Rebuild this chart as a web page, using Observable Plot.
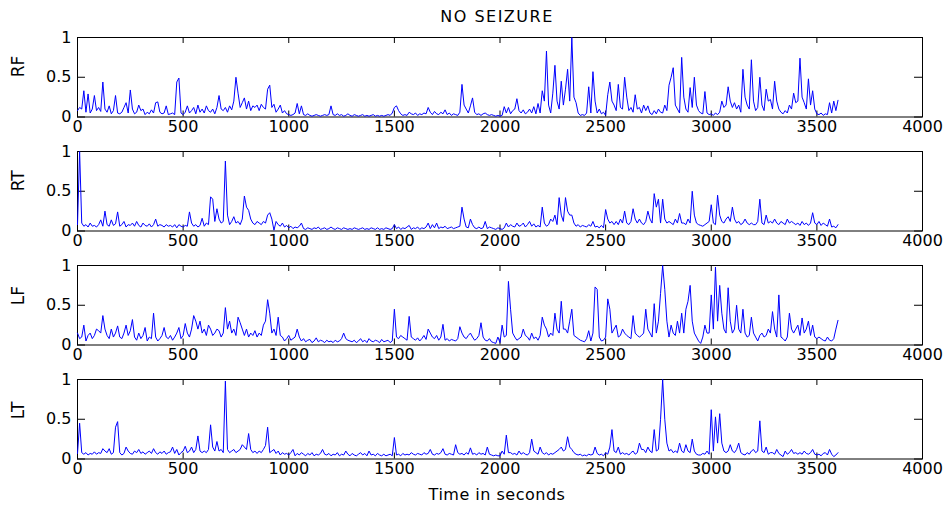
<!DOCTYPE html>
<html>
<head>
<meta charset="utf-8">
<script src="https://cdn.jsdelivr.net/npm/d3@7"></script>
<script src="https://cdn.jsdelivr.net/npm/@observablehq/plot@0.6"></script>
<style>
  body { margin: 0; background: #fff; }
  #chart { position: relative; width: 944px; height: 509px; overflow: hidden; font-family: "DejaVu Sans", sans-serif; color: #000; }
  .panel { position: absolute; left: 0; }
  #title { position: absolute; left: 347px; width: 300px; top: 8px; line-height: 18px; font-size: 16px; letter-spacing: 1.5px; text-align: center; }
  #xlabel { position: absolute; left: 347px; width: 300px; top: 486px; line-height: 18px; font-size: 16px; letter-spacing: 0.5px; text-align: center; }
</style>
</head>
<body>
<div id="chart">
  <div id="title">NO SEIZURE</div>
  <div id="xlabel">Time in seconds</div>
</div>
<script>
// ---- data (one sample every 10 s, 0..3600 s) ----
const step = 10;
const xTicks = [0, 500, 1000, 1500, 2000, 2500, 3000, 3500, 4000];
const yTicks = [0, 0.5, 1];
const channelNames = ["RF", "RT", "LF", "LT"];

const rf = [
 .08,.12,.10,.33,.06,.29,.05,.10,.27,.08,
 .12,.07,.44,.10,.06,.14,.04,.08,.27,.05,
 .04,.06,.12,.18,.05,.34,.10,.04,.06,.15,
 .08,.10,.03,.06,.04,.09,.05,.18,.19,.06,
 .04,.05,.14,.03,.04,.05,.03,.44,.49,.05,
 .03,.06,.14,.05,.08,.12,.04,.15,.06,.10,
 .05,.14,.08,.06,.10,.04,.12,.27,.10,.08,
 .12,.06,.14,.09,.20,.50,.30,.12,.18,.24,
 .10,.20,.08,.14,.12,.15,.08,.16,.12,.10,
 .35,.40,.12,.16,.06,.10,.15,.05,.08,.04,
 .03,.02,.03,.05,.17,.04,.14,.03,.02,.04,
 .02,.01,.02,.03,.02,.01,.02,.03,.02,.03,
 .14,.03,.02,.04,.02,.03,.01,.02,.04,.02,
 .01,.03,.02,.01,.02,.03,.01,.02,.01,.02,
 .03,.01,.02,.01,.02,.01,.02,.03,.02,.05,
 .12,.14,.08,.04,.02,.03,.02,.06,.04,.03,
 .05,.02,.04,.03,.05,.04,.12,.06,.03,.07,
 .04,.03,.06,.04,.09,.03,.05,.02,.04,.03,
 .02,.06,.41,.15,.10,.05,.14,.24,.06,.03,
 .04,.02,.04,.05,.03,.02,.03,.02,.01,.02,
 .01,.02,.13,.05,.12,.04,.08,.10,.23,.08,
 .05,.09,.04,.06,.10,.05,.13,.04,.17,.05,
 .33,.20,.83,.15,.05,.30,.65,.20,.10,.45,
 .15,.35,.60,.20,1.0,.25,.18,.05,.02,.03,
 .02,.05,.38,.05,.57,.20,.05,.10,.04,.06,
 .02,.28,.44,.20,.15,.08,.41,.12,.10,.50,
 .25,.08,.12,.06,.28,.10,.12,.05,.15,.08,
 .14,.05,.03,.08,.04,.10,.06,.05,.15,.08,
 .40,.50,.62,.15,.10,.05,.75,.25,.10,.06,
 .37,.12,.50,.15,.08,.05,.04,.32,.05,.03,
 .04,.02,.05,.03,.06,.20,.12,.15,.38,.20,
 .12,.18,.10,.15,.06,.60,.25,.15,.10,.72,
 .20,.08,.12,.50,.15,.08,.35,.20,.22,.10,
 .45,.20,.10,.06,.04,.08,.05,.15,.10,.30,
 .18,.20,.74,.25,.18,.10,.48,.15,.33,.10,
 .04,.03,.05,.02,.04,.03,.18,.05,.20,.08,
 .21];

const rt = [
 .08,1.0,.10,.06,.08,.05,.10,.06,.07,.05,
 .08,.14,.06,.25,.08,.06,.14,.07,.09,.24,
 .06,.08,.12,.05,.08,.07,.10,.06,.12,.07,
 .05,.10,.07,.06,.09,.05,.08,.15,.06,.08,
 .07,.05,.08,.06,.07,.05,.08,.04,.08,.06,
 .05,.07,.06,.24,.10,.06,.08,.05,.07,.16,
 .06,.10,.08,.43,.40,.12,.28,.15,.10,.12,
 .88,.20,.08,.12,.18,.10,.12,.08,.15,.44,
 .30,.26,.15,.10,.08,.12,.10,.08,.12,.10,
 .20,.23,.15,.01,.12,.08,.06,.10,.05,.07,
 .04,.06,.03,.05,.04,.06,.10,.03,.02,.04,
 .03,.02,.04,.03,.05,.02,.03,.04,.02,.03,
 .05,.03,.02,.04,.03,.02,.04,.03,.02,.03,
 .02,.04,.03,.02,.03,.04,.02,.03,.02,.04,
 .03,.02,.04,.02,.03,.02,.04,.03,.02,.03,
 .08,.03,.05,.02,.04,.03,.05,.07,.02,.04,
 .03,.05,.02,.04,.03,.05,.10,.03,.08,.04,
 .10,.03,.05,.04,.06,.03,.04,.05,.03,.04,
 .05,.06,.30,.15,.05,.04,.15,.08,.04,.03,
 .05,.03,.04,.12,.03,.05,.04,.03,.02,.04,
 .03,.02,.04,.10,.05,.08,.06,.05,.10,.06,
 .07,.10,.05,.08,.12,.06,.09,.05,.07,.05,
 .30,.10,.06,.08,.15,.12,.20,.08,.42,.20,
 .12,.42,.25,.20,.20,.10,.06,.08,.05,.07,
 .06,.05,.08,.06,.12,.05,.06,.04,.07,.04,
 .27,.15,.10,.12,.08,.12,.08,.15,.10,.25,
 .10,.08,.12,.28,.15,.10,.15,.10,.08,.12,
 .25,.15,.10,.47,.30,.40,.10,.40,.15,.10,
 .12,.10,.08,.15,.10,.22,.10,.10,.08,.15,
 .10,.50,.20,.10,.08,.07,.06,.08,.10,.12,
 .33,.10,.08,.45,.20,.12,.10,.15,.18,.12,
 .30,.15,.10,.12,.08,.10,.15,.10,.08,.10,
 .08,.08,.12,.40,.10,.08,.20,.10,.12,.10,
 .15,.10,.08,.12,.10,.08,.15,.10,.12,.10,
 .08,.10,.07,.12,.08,.10,.07,.10,.23,.10,
 .08,.12,.07,.10,.08,.06,.15,.05,.06,.04,
 .08];

const lf = [
 .15,.08,.10,.25,.05,.12,.15,.08,.12,.20,
 .18,.15,.37,.20,.12,.08,.20,.10,.15,.24,
 .10,.08,.15,.25,.12,.18,.32,.10,.06,.15,
 .08,.12,.22,.05,.10,.08,.40,.10,.05,.08,
 .12,.22,.10,.08,.12,.06,.10,.15,.22,.08,
 .12,.27,.15,.10,.20,.37,.30,.20,.30,.15,
 .20,.12,.25,.20,.12,.15,.20,.18,.10,.15,
 .47,.20,.30,.15,.20,.12,.35,.28,.20,.12,
 .20,.10,.15,.12,.18,.10,.15,.12,.25,.30,
 .57,.40,.15,.20,.12,.35,.12,.10,.05,.08,
 .12,.06,.08,.10,.20,.10,.05,.08,.04,.06,
 .07,.03,.05,.09,.04,.06,.05,.03,.06,.04,
 .05,.03,.06,.04,.05,.08,.15,.08,.06,.05,
 .04,.06,.03,.05,.08,.04,.06,.03,.08,.05,
 .04,.06,.05,.03,.07,.04,.05,.06,.03,.05,
 .45,.10,.08,.12,.10,.08,.06,.36,.10,.08,
 .06,.09,.05,.08,.12,.07,.20,.15,.10,.08,
 .12,.06,.10,.26,.06,.08,.05,.07,.06,.05,
 .08,.23,.15,.10,.08,.12,.15,.10,.06,.08,
 .12,.28,.10,.06,.05,.08,.04,.03,.02,.10,
 .03,.25,.10,.12,.80,.45,.15,.10,.06,.08,
 .10,.20,.12,.10,.06,.15,.08,.10,.06,.12,
 .35,.25,.20,.10,.15,.12,.40,.20,.15,.55,
 .20,.20,.15,.30,.45,.12,.10,.08,.06,.05,
 .04,.08,.18,.05,.15,.73,.70,.10,.05,.06,
 .10,.58,.45,.15,.20,.25,.10,.12,.20,.15,
 .12,.10,.08,.37,.15,.12,.10,.12,.15,.45,
 .20,.15,.10,.52,.15,.30,.65,1.0,.70,.30,
 .10,.25,.15,.12,.30,.15,.40,.15,.45,.55,
 .75,.30,.15,.10,.05,.02,.10,.25,.15,.15,
 .63,.20,.98,.30,.75,.40,.20,.15,.72,.30,
 .15,.20,.50,.20,.15,.45,.15,.10,.12,.35,
 .15,.10,.05,.12,.15,.10,.12,.20,.15,.42,
 .20,.10,.63,.10,.08,.05,.10,.40,.20,.15,
 .20,.25,.12,.34,.15,.20,.30,.12,.25,.10,
 .08,.10,.08,.06,.05,.10,.06,.05,.08,.20,
 .31];

const lt = [
 .07,.45,.08,.06,.08,.05,.07,.06,.09,.06,
 .08,.07,.13,.10,.08,.13,.06,.08,.40,.47,
 .08,.05,.07,.15,.10,.07,.06,.10,.08,.12,
 .07,.09,.06,.08,.10,.07,.13,.08,.06,.09,
 .07,.10,.06,.08,.09,.15,.07,.12,.05,.08,
 .10,.16,.08,.10,.15,.08,.12,.29,.10,.08,
 .10,.08,.12,.43,.15,.10,.22,.10,.12,.08,
 .98,.12,.08,.10,.12,.08,.10,.12,.18,.15,
 .12,.32,.12,.08,.10,.07,.10,.08,.12,.17,
 .40,.08,.10,.12,.07,.10,.05,.08,.06,.07,
 .05,.08,.12,.04,.07,.05,.08,.06,.04,.07,
 .05,.08,.04,.06,.05,.07,.12,.06,.05,.07,
 .04,.06,.05,.08,.04,.06,.05,.10,.06,.04,
 .07,.05,.04,.06,.08,.05,.07,.04,.10,.05,
 .06,.04,.07,.05,.04,.06,.04,.05,.06,.04,
 .27,.05,.06,.04,.07,.05,.06,.05,.08,.06,
 .05,.07,.06,.05,.08,.06,.07,.12,.06,.05,
 .07,.06,.08,.13,.06,.05,.07,.06,.05,.18,
 .08,.06,.07,.05,.08,.06,.14,.06,.07,.05,
 .08,.06,.07,.05,.15,.06,.05,.04,.05,.04,
 .04,.10,.06,.30,.08,.08,.06,.07,.05,.10,
 .06,.08,.06,.05,.08,.25,.10,.08,.06,.15,
 .08,.06,.08,.05,.07,.06,.08,.10,.12,.15,
 .10,.12,.28,.15,.12,.08,.06,.05,.06,.04,
 .05,.04,.06,.05,.06,.15,.07,.05,.06,.04,
 .08,.06,.15,.37,.10,.08,.15,.06,.08,.06,
 .07,.05,.08,.10,.06,.08,.20,.12,.12,.08,
 .15,.10,.08,.37,.10,.12,.50,1.0,.50,.20,
 .10,.12,.08,.10,.08,.20,.10,.08,.18,.10,
 .08,.25,.10,.06,.05,.05,.07,.06,.10,.06,
 .62,.10,.53,.20,.57,.20,.10,.08,.10,.18,
 .10,.08,.12,.20,.08,.06,.05,.08,.06,.10,
 .12,.08,.10,.48,.10,.08,.15,.06,.08,.08,
 .06,.12,.07,.05,.03,.10,.06,.08,.12,.07,
 .08,.06,.08,.06,.10,.07,.06,.08,.12,.06,
 .05,.06,.04,.07,.08,.05,.12,.06,.03,.05,
 .08];

const series = [rf, rt, lf, lt];

// ---- layout ----
const W = 944, H = 114, ML = 77, MR = 22, MT = 6, FH = 79.5;
const FW = W - ML - MR;
const panelTops = [37.3, 151.1, 264.9, 378.7];
const chart = document.getElementById("chart");

channelNames.forEach((name, i) => {
  const data = series[i].map((v, j) => ({t: j * step, v}));
  const svg = Plot.plot({
    width: W,
    height: H,
    marginLeft: ML,
    marginRight: MR,
    marginTop: MT,
    marginBottom: H - MT - FH,
    style: {fontFamily: "DejaVu Sans", fontSize: "16px", background: "none", color: "black", overflow: "visible"},
    x: {domain: [0, 4000]},
    y: {domain: [0, 1]},
    marks: [
      Plot.frame({stroke: "black", strokeWidth: 1}),
      // inward ticks on all four sides
      Plot.ruleX(xTicks, {x: d => d, insetTop: FH - 6, stroke: "black"}),
      Plot.ruleX(xTicks, {x: d => d, insetBottom: FH - 6, stroke: "black"}),
      Plot.ruleY(yTicks, {y: d => d, insetRight: FW - 8, stroke: "black"}),
      Plot.ruleY(yTicks, {y: d => d, insetLeft: FW - 8, stroke: "black"}),
      Plot.line(data, {x: "t", y: "v", stroke: "#0000ff", strokeWidth: 1}),
      Plot.axisX(xTicks, {anchor: "bottom", tickSize: 0, tickPadding: 4, tickFormat: d => String(d), label: null, fontSize: 16, fill: "black"}),
      Plot.axisY(yTicks, {anchor: "left", tickSize: 0, tickPadding: 6, tickFormat: d => String(d), label: null, fontSize: 16, fill: "black"}),
      Plot.text([name], {frameAnchor: "left", dx: -58.5, rotate: -90, text: d => d, fontSize: 17, fill: "black"})
    ]
  });
  const wrap = document.createElement("div");
  wrap.className = "panel";
  wrap.style.top = (panelTops[i] - MT) + "px";
  wrap.appendChild(svg);
  chart.appendChild(wrap);
});
</script>
</body>
</html>
